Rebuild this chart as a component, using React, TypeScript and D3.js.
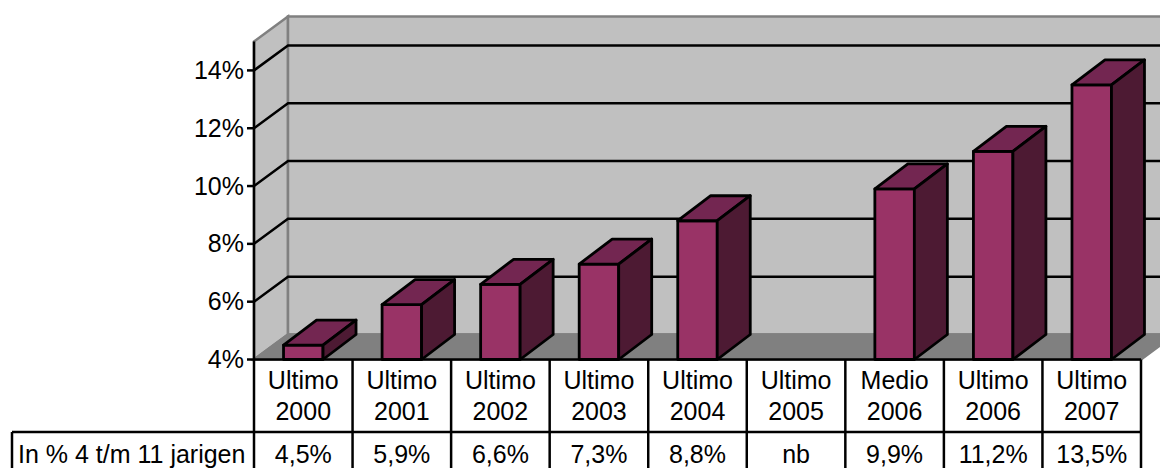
import React from 'react';
import * as d3 from 'd3';

const topLabels = ['Ultimo', 'Ultimo', 'Ultimo', 'Ultimo', 'Ultimo', 'Ultimo', 'Medio', 'Ultimo', 'Ultimo'];
const years = ['2000', '2001', '2002', '2003', '2004', '2005', '2006', '2006', '2007'];
const values: (number | null)[] = [4.5, 5.9, 6.6, 7.3, 8.8, null, 9.9, 11.2, 13.5];
const rowValues = ['4,5%', '5,9%', '6,6%', '7,3%', '8,8%', 'nb', '9,9%', '11,2%', '13,5%'];
const yTicks = [4, 6, 8, 10, 12, 14];
const rowTitle = 'In % 4 t/m 11 jarigen';

const width = 1160;
const height = 468;
const font = '"Liberation Sans", Arial, sans-serif';
const colors = { wall: '#c0c0c0', floor: '#808080', edge: '#808080', front: '#993366', top: '#732651', side: '#4d1a33' };

// depth of the fake 3d box
const dx = 34;
const dy = -25;
const barDx = 33;

export default function App() {
  const x = d3.scaleBand<number>().domain(d3.range(values.length)).range([254, 1141]).paddingInner(0).paddingOuter(0);
  const y = d3.scaleLinear().domain([4, 15]).range([359.5, 41.5]);
  const barW = 39.5;
  const floorY = y(4);
  const topY = y(15);
  const pts = (p: number[][]) => p.map(d => d.join(',')).join(' ');
  const tableBottom = 470;
  const row1 = 432;

  return (
    <svg width={width} height={height} viewBox={`0 0 ${width} ${height}`} style={{ position: 'absolute', left: 0, top: 0, background: '#fff' }} fontFamily={font} fontSize={25} fill="#000">
      {/* walls and floor */}
      <polygon points={pts([[254, topY], [254 + dx, topY + dy], [254 + dx, floorY + dy], [254, floorY]])} fill={colors.wall} stroke={colors.edge} strokeWidth={2.5} />
      <rect x={254 + dx} y={topY + dy} width={1141 - 254} height={floorY - topY} fill={colors.wall} stroke={colors.edge} strokeWidth={2.5} />
      <polygon points={pts([[254, floorY], [254 + dx, floorY + dy], [1141 + dx, floorY + dy], [1141, floorY]])} fill={colors.floor} stroke={colors.edge} strokeWidth={2.5} />

      {/* gridlines */}
      {yTicks.slice(1).map(t => (
        <polyline key={t} points={pts([[254, y(t)], [254 + dx, y(t) + dy], [1141 + dx, y(t) + dy]])} fill="none" stroke="#000" strokeWidth={2.5} />
      ))}

      {/* y axis */}
      <line x1={254} x2={254} y1={topY} y2={floorY} stroke="#000" strokeWidth={2.5} />
      {yTicks.map(t => (
        <g key={t}>
          <line x1={247} x2={254} y1={y(t)} y2={y(t)} stroke="#000" strokeWidth={2.5} />
          <text x={244} y={y(t) + 8.5} textAnchor="end">{t}%</text>
        </g>
      ))}

      {/* bars */}
      {values.map((v, i) => {
        if (v === null) return null;
        const bx = (x(i) as number) + (x.bandwidth() - barW) / 2;
        const by = y(v);
        return (
          <g key={i} stroke="#000" strokeWidth={2.8} strokeLinejoin="round">
            <rect x={bx} y={by} width={barW} height={floorY - by} fill={colors.front} />
            <polygon points={pts([[bx, by], [bx + barDx, by + dy], [bx + barW + barDx, by + dy], [bx + barW, by]])} fill={colors.top} />
            <polygon points={pts([[bx + barW, by], [bx + barW + barDx, by + dy], [bx + barW + barDx, floorY + dy], [bx + barW, floorY]])} fill={colors.side} />
          </g>
        );
      })}

      {/* data table */}
      <g stroke="#000" strokeWidth={2.5}>
        <line x1={254} x2={1141} y1={floorY} y2={floorY} />
        <line x1={12} x2={1141} y1={row1} y2={row1} />
        <line x1={12} x2={12} y1={row1} y2={tableBottom} />
        {d3.range(values.length + 1).map(i => {
          const lx = i === values.length ? 1141 : (x(i) as number);
          return <line key={i} x1={lx} x2={lx} y1={floorY} y2={tableBottom} />;
        })}
      </g>
      {values.map((_, i) => {
        const cx = (x(i) as number) + x.bandwidth() / 2;
        return (
          <g key={i} textAnchor="middle">
            <text x={cx} y={389}>{topLabels[i]}</text>
            <text x={cx} y={420}>{years[i]}</text>
            <text x={cx} y={463}>{rowValues[i]}</text>
          </g>
        );
      })}
      <text x={18} y={463}>{rowTitle}</text>
    </svg>
  );
}
